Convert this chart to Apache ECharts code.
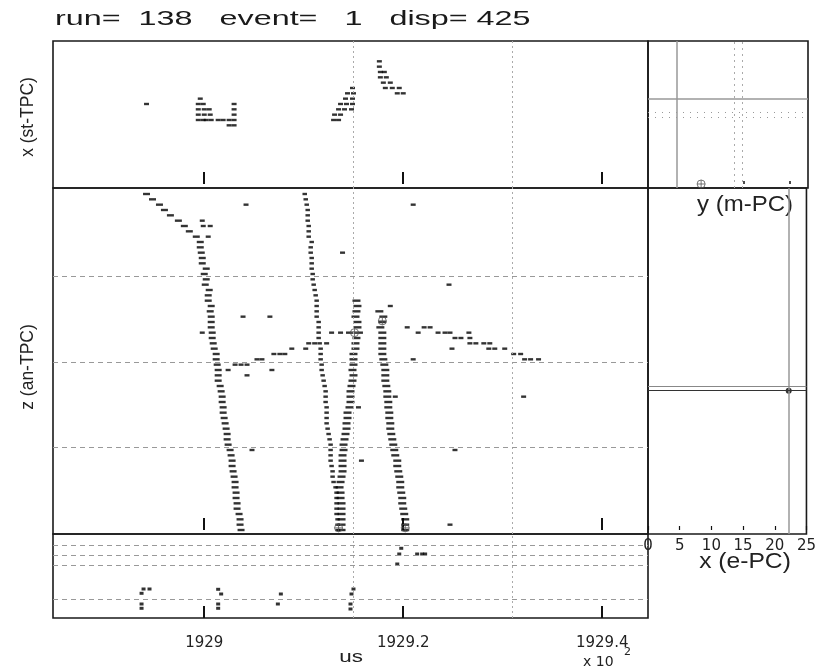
<!DOCTYPE html>
<html><head><meta charset="utf-8">
<script src="https://cdn.jsdelivr.net/npm/echarts@6/dist/echarts.min.js"></script>
<style>html,body{margin:0;padding:0;background:#fff}#c{width:819px;height:668px}</style>
</head><body><div id="c"></div>
<script>
// ---------- axes / reference values ----------
const timeMin = 1928.848, timeMax = 1929.446;          // x 10^2 us
const timeTicks = [1929, 1929.2, 1929.4];
const timeTickLabels = ['1929', '1929.2', '1929.4'];
const gateTimes = [1929.148, 1929.308];
const anTpcBoundaries = [15.5, 31.5, 47.5];
const pcPlanes = [7.23, 6.23, 5.23, 1.9];
const ePcTicks = [0, 5, 10, 15, 20, 25];

// ---------- st-TPC hits [time, x-channel] ----------
const stTpcHits = [
  [1929.176,23],[1929.176,22],[1929.177,21],[1929.181,21],[1929.177,20],[1929.183,20],
  [1929.180,19],[1929.187,19],[1929.182,18],[1929.189,18],[1929.196,18],[1929.194,17],[1929.200,17],
  [1929.149,18],[1929.144,17],[1929.150,17],[1929.142,16],[1929.149,16],
  [1929.137,15],[1929.143,15],[1929.149,15],[1929.135,14],[1929.141,14],[1929.148,14],
  [1929.131,13],[1929.137,13],[1929.130,12],[1929.135,12],
  [1928.942,15],[1928.996,16],[1928.994,15],[1928.999,15],[1929.030,15],
  [1928.994,14],[1929.000,14],[1929.005,14],[1929.030,14],
  [1928.994,13],[1929.000,13],[1929.006,13],[1929.030,13],
  [1928.994,12],[1928.999,12],[1929.002,12],[1929.007,12],[1929.014,12],[1929.019,12],[1929.025,12],[1929.030,12],
  [1929.025,11],[1929.030,11]
];

// ---------- an-TPC tracks [time, z-channel] ----------
const trackA = [
  [1928.942,63],[1928.948,62],[1928.955,61],[1928.960,60],[1928.966,59],[1928.974,58],[1928.980,57],[1928.985,56],
  [1928.992,55],[1928.996,54],[1928.996,53],[1928.997,52],[1928.998,51],[1928.998,50],[1929.002,49],[1929.000,48],
  [1929.002,47],[1929.001,46],[1929.005,45],[1929.004,44],[1929.004,43],[1929.007,42],[1929.006,41],[1929.007,40],
  [1929.007,39],[1929.007,38],[1929.008,37],[1929.008,36],[1929.009,35],[1929.010,34],[1929.012,33],[1929.012,32],
  [1929.013,31],[1929.014,30],[1929.014,29],[1929.014,28],[1929.016,27],[1929.017,26],[1929.018,25],[1929.018,24],
  [1929.019,23],[1929.019,22],[1929.020,21],[1929.021,20],[1929.022,19],[1929.023,18],[1929.023,17],[1929.024,16],
  [1929.026,15],[1929.027,14],[1929.028,13],[1929.028,12],[1929.029,11],[1929.030,10],[1929.031,9],[1929.031,8],
  [1929.032,7],[1929.032,6],[1929.033,5],[1929.033,4],[1929.035,3],[1929.036,2],[1929.036,1],[1929.037,0]
];
const trackB = [
  [1929.101,63],[1929.102,62],[1929.103,61],[1929.104,60],[1929.104,59],[1929.104,58],[1929.105,57],[1929.105,56],
  [1929.105,55],[1929.108,54],[1929.107,53],[1929.107,52],[1929.108,51],[1929.108,50],[1929.108,49],[1929.109,48],
  [1929.109,47],[1929.110,46],[1929.111,45],[1929.112,44],[1929.113,43],[1929.113,42],[1929.113,41],[1929.113,40],
  [1929.115,39],[1929.115,38],[1929.115,37],[1929.115,36],[1929.116,35],[1929.117,34],[1929.117,33],[1929.117,32],
  [1929.118,31],[1929.118,30],[1929.119,29],[1929.120,28],[1929.121,27],[1929.122,26],[1929.122,25],[1929.122,24],
  [1929.123,23],[1929.123,22],[1929.123,21],[1929.123,20],[1929.124,19],[1929.125,18],[1929.126,17],[1929.127,16],
  [1929.127,15],[1929.127,14],[1929.127,13],[1929.128,12],[1929.129,11],[1929.129,10],[1929.130,9],[1929.132,8],
  [1929.133,7],[1929.133,6],[1929.133,5],[1929.133,4],[1929.133,3],[1929.134,2],[1929.134,1],[1929.134,0]
];
const trackC = [
  [1929.153,43],[1929.154,42],[1929.153,41],[1929.152,40],[1929.154,39],[1929.154,38],[1929.151,37],[1929.153,36],
  [1929.152,35],[1929.152,34],[1929.150,33],[1929.150,32],[1929.150,31],[1929.149,30],[1929.150,29],[1929.149,28],
  [1929.148,27],[1929.147,26],[1929.147,25],[1929.147,24],[1929.146,23],[1929.144,22],[1929.144,21],[1929.143,20],
  [1929.143,19],[1929.142,18],[1929.141,17],[1929.140,16],[1929.140,15],[1929.139,14],[1929.139,13],[1929.139,12],
  [1929.139,11],[1929.138,10],[1929.137,9],[1929.136,8],[1929.137,7],[1929.137,6],[1929.138,5],[1929.138,4],
  [1929.138,3],[1929.138,2],[1929.138,1],[1929.138,0]
];
const trackD = [
  [1929.176,41],[1929.180,40],[1929.179,39],[1929.177,38],[1929.179,37],[1929.179,36],[1929.179,35],[1929.179,34],
  [1929.179,33],[1929.180,32],[1929.181,31],[1929.182,30],[1929.182,29],[1929.182,28],[1929.183,27],[1929.184,26],
  [1929.184,25],[1929.185,24],[1929.185,23],[1929.186,22],[1929.186,21],[1929.187,20],[1929.187,19],[1929.188,18],
  [1929.189,17],[1929.190,16],[1929.191,15],[1929.192,14],[1929.194,13],[1929.194,12],[1929.195,11],[1929.196,10],
  [1929.197,9],[1929.197,8],[1929.198,7],[1929.199,6],[1929.199,5],[1929.200,4],[1929.201,3],[1929.202,2],
  [1929.202,1],[1929.202,0]
];
const otherAnHits = [
  [1929.042,61],[1929.210,61],[1928.998,58],[1928.999,57],[1929.006,57],[1929.004,55],[1929.139,52],[1929.246,46],
  [1929.187,42],[1929.039,40],[1929.066,40],[1929.204,38],[1929.221,38],[1929.227,38],
  [1929.128,37],[1929.137,37],[1928.998,37],[1929.145,37],[1929.157,37],[1929.215,37],[1929.235,37],[1929.242,37],
  [1929.247,37],[1929.266,37],[1929.252,36],[1929.258,36],[1929.267,36],
  [1929.267,35],[1929.273,35],[1929.281,35],[1929.287,35],[1929.105,35],[1929.111,35],[1929.123,35],
  [1929.088,34],[1929.102,34],[1929.249,34],[1929.286,34],[1929.292,34],[1929.302,34],
  [1929.070,33],[1929.076,33],[1929.081,33],[1929.311,33],[1929.318,33],
  [1929.053,32],[1929.058,32],[1929.210,32],[1929.322,32],[1929.328,32],[1929.336,32],
  [1929.031,31],[1929.037,31],[1929.043,31],[1929.024,30],[1929.068,30],[1929.043,29],
  [1929.192,25],[1929.321,25],[1929.155,23],[1929.048,15],[1929.252,15],[1929.158,13],[1929.247,1]
];
const vertexMarks = [[1929.179,39.2],[1929.151,37],[1929.135,0.4],[1929.202,0.4]];

// ---------- PC hits [time, plane coordinate] ----------
const pcHits = [
  [1928.939,2.9],[1928.945,2.9],[1928.937,2.47],[1928.937,1.4],[1928.937,0.97],
  [1929.014,2.87],[1929.017,2.4],[1929.014,1.4],[1929.014,0.97],
  [1929.077,2.4],[1929.074,1.4],
  [1929.150,2.9],[1929.148,2.4],[1929.147,1.4],[1929.147,0.9],
  [1929.198,6.97],[1929.196,6.4],[1929.194,5.4],
  [1929.214,6.4],[1929.219,6.4],[1929.222,6.4]
];

// ---------- side views ----------
const mPcWireX = 4.5, mPcWireY = 15.94;
const mPcDottedX = [13.5, 14.8], mPcDottedY = [13.41, 12.56];
const mPcMark = [[8.3, 0]];
const ePcX = 22.2, ePcZ = [26.87, 26.12];
const ePcPoint = [[22.2, 26.12]];

// ---------- chart ----------
const ink = '#000';
const frame = {show: true, borderColor: '#1a1a1a', borderWidth: 1.6, backgroundColor: 'transparent'};
const grids = [
  Object.assign({left: 53, top: 41, width: 595, height: 147}, frame),
  Object.assign({left: 53, top: 188, width: 595, height: 346}, frame),
  Object.assign({left: 53, top: 534, width: 595, height: 84}, frame),
  Object.assign({left: 648, top: 41, width: 160, height: 147}, frame),
  Object.assign({left: 648, top: 188, width: 160, height: 346}, frame)
];
function timeAxis(gi, labels) {
  return {
    type: 'value', gridIndex: gi, min: timeMin, max: timeMax,
    axisLine: {show: false}, splitLine: {show: false},
    axisTick: {show: true, customValues: timeTicks, inside: true, length: 12, lineStyle: {color: '#111', width: 2}},
    axisLabel: labels ? {
      show: true, customValues: timeTicks, margin: 18, color: '#222', fontSize: 15, fontFamily: 'DejaVu Sans',
      formatter: v => { const i = timeTicks.findIndex(t => Math.abs(t - v) < 1e-6); return i >= 0 ? timeTickLabels[i] : ''; }
    } : {show: false}
  };
}
const hidden = {axisLine: {show: false}, axisTick: {show: false}, axisLabel: {show: false}, splitLine: {show: false}};
const gateLine = {type: [2, 3], color: '#aaa', width: 1};
const dashLine = {type: [5, 4], color: '#999', width: 1};
function ml(data) {
  return {silent: true, symbol: ['none', 'none'], label: {show: false}, animation: false, data: data};
}
const gates = gateTimes.map(t => ({xAxis: t, lineStyle: gateLine}));
function hitSeries(name, data, xi, w, h, extra) {
  return Object.assign({
    name: name, type: 'scatter', xAxisIndex: xi, yAxisIndex: xi, data: data, z: 3,
    symbol: 'rect', symbolSize: [w, h], itemStyle: {color: ink}, silent: true, animation: false
  }, extra || {});
}
const vertexSymbol = 'path://M0,-5A5,5 0 1,1 0,5A5,5 0 1,1 0,-5ZM-5,0L5,0M0,-5L0,5';

const option = {
  animation: false,
  grid: grids,
  xAxis: [
    timeAxis(0, false), timeAxis(1, false), timeAxis(2, true),
    {type: 'value', gridIndex: 3, min: 0, max: 25, axisLine: {show: false}, splitLine: {show: false},
     axisLabel: {show: false}, axisTick: {customValues: [15, 22.2], inside: true, length: 3, lineStyle: {color: '#111', width: 1.5}}},
    {type: 'value', gridIndex: 4, min: 0, max: 25, interval: 5, axisLine: {show: false}, splitLine: {show: false},
     axisTick: {inside: true, length: 4, lineStyle: {color: '#111', width: 1.2}},
     axisLabel: {customValues: ePcTicks, margin: 5, color: '#222', fontSize: 15, fontFamily: 'DejaVu Sans'}}
  ],
  yAxis: [
    Object.assign({type: 'value', gridIndex: 0, min: -0.75, max: 26.81}, hidden),
    Object.assign({type: 'value', gridIndex: 1, min: -0.75, max: 64.125}, hidden),
    Object.assign({type: 'value', gridIndex: 2, min: 0, max: 8.4}, hidden),
    Object.assign({type: 'value', gridIndex: 3, min: -0.75, max: 26.81}, hidden),
    Object.assign({type: 'value', gridIndex: 4, min: -0.75, max: 64.125}, hidden)
  ],
  series: [
    hitSeries('st-TPC', stTpcHits, 0, 5, 2.4, {markLine: ml(gates)}),
    hitSeries('an-TPC other', otherAnHits, 1, 5, 2.4, {markLine: ml(gates.concat(anTpcBoundaries.map(z => ({yAxis: z, lineStyle: dashLine}))))}),
    hitSeries('track A', trackA, 1, 7, 2.4),
    hitSeries('track B', trackB, 1, 4.5, 2.4),
    hitSeries('track C', trackC, 1, 8, 2.4),
    hitSeries('track D', trackD, 1, 8, 2.4),
    {type: 'scatter', xAxisIndex: 1, yAxisIndex: 1, data: vertexMarks, symbol: vertexSymbol, symbolSize: 8, z: 4,
     itemStyle: {color: 'transparent', borderColor: '#555', borderWidth: 1}, silent: true},
    hitSeries('PC', pcHits, 2, 4, 3, {markLine: ml(gates.concat(pcPlanes.map(v => ({yAxis: v, lineStyle: dashLine}))))}),
    {type: 'scatter', xAxisIndex: 3, yAxisIndex: 3, data: mPcMark, symbol: vertexSymbol, symbolSize: 8,
     itemStyle: {color: 'transparent', borderColor: '#555', borderWidth: 1}, silent: true,
     markLine: ml([
       {xAxis: mPcWireX, lineStyle: {type: 'solid', color: '#999', width: 1.5}},
       {yAxis: mPcWireY, lineStyle: {type: 'solid', color: '#999', width: 1.5}}
     ].concat(mPcDottedX.map(x => ({xAxis: x, lineStyle: {type: [2, 4], color: '#aaa', width: 1}})))
      .concat(mPcDottedY.map(y => ({yAxis: y, lineStyle: {type: [1, 6], color: '#999', width: 1}}))))},
    {type: 'scatter', xAxisIndex: 4, yAxisIndex: 4, data: ePcPoint, symbol: 'circle', symbolSize: 6,
     itemStyle: {color: ink}, silent: true,
     markLine: ml([
       {xAxis: ePcX, lineStyle: {type: 'solid', color: '#999', width: 1.5}},
       {yAxis: ePcZ[0], lineStyle: {type: 'solid', color: '#888', width: 1.2}},
       {yAxis: ePcZ[1], lineStyle: {type: 'solid', color: '#333', width: 1.2}}
     ])}
  ],
  graphic: [
    {type: 'text', x: 55, y: 19, scaleX: 1.54, silent: true,
     style: {text: 'run=  138   event=   1   disp= 425', font: '21px "Liberation Sans"', fill: '#1a1a1a', textVerticalAlign: 'middle', verticalAlign: 'middle'}},
    {type: 'text', x: 28, y: 117, rotation: Math.PI / 2, silent: true,
     style: {text: 'x (st-TPC)', font: '17.5px "Liberation Sans"', fill: '#222', textAlign: 'center', align: 'center', textVerticalAlign: 'middle', verticalAlign: 'middle'}},
    {type: 'text', x: 28, y: 367, rotation: Math.PI / 2, silent: true,
     style: {text: 'z (an-TPC)', font: '17.5px "Liberation Sans"', fill: '#222', textAlign: 'center', align: 'center', textVerticalAlign: 'middle', verticalAlign: 'middle'}},
    {type: 'text', x: 745, y: 205, scaleX: 1.09, silent: true,
     style: {text: 'y (m-PC)', font: '22px "Liberation Sans"', fill: '#222', textAlign: 'center', align: 'center', textVerticalAlign: 'middle', verticalAlign: 'middle'}},
    {type: 'text', x: 745, y: 562, scaleX: 1.12, silent: true,
     style: {text: 'x (e-PC)', font: '22px "Liberation Sans"', fill: '#222', textAlign: 'center', align: 'center', textVerticalAlign: 'middle', verticalAlign: 'middle'}},
    {type: 'text', x: 351, y: 658, scaleX: 1.4, silent: true,
     style: {text: 'us', font: '16px "Liberation Sans"', fill: '#222', textAlign: 'center', align: 'center', textVerticalAlign: 'middle', verticalAlign: 'middle'}},
    {type: 'text', x: 583, y: 662, silent: true,
     style: {text: 'x 10', font: '14px "DejaVu Sans"', fill: '#222', textVerticalAlign: 'middle', verticalAlign: 'middle'}},
    {type: 'text', x: 624, y: 652, silent: true,
     style: {text: '2', font: '11px "DejaVu Sans"', fill: '#222', textVerticalAlign: 'middle', verticalAlign: 'middle'}}
  ]
};
const chart = echarts.init(document.getElementById('c'), null, {renderer: 'canvas'});
chart.setOption(option);
</script></body></html>
